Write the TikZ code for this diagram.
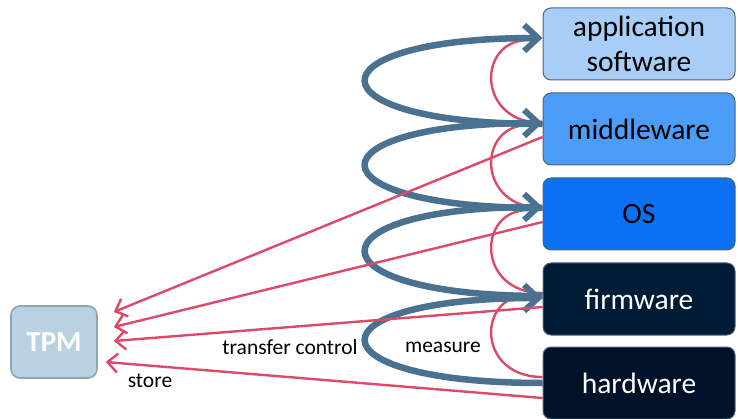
\documentclass[tikz,border=0pt]{standalone}
\usepackage{fontspec}
\setmainfont{Carlito}
\usetikzlibrary{arrows.meta,calc}

\definecolor{appfill}{HTML}{A8CEF7}
\definecolor{mwfill}{HTML}{4C9DF8}
\definecolor{osfill}{HTML}{0A72F2}
\definecolor{fwfill}{HTML}{001B35}
\definecolor{hwfill}{HTML}{00112A}
\definecolor{boxedge}{HTML}{4F6478}
\definecolor{tpmfill}{HTML}{B9D1E0}
\definecolor{tpmedge}{HTML}{8FA4B2}
\definecolor{flow}{HTML}{4A7290}
\definecolor{meas}{HTML}{DC4A6A}

\tikzset{
  layer/.style={draw=boxedge, line width=1pt, rounded corners=8pt,
    minimum width=192pt, minimum height=72pt, inner sep=0pt, align=center,
    font=\fontsize{29.5}{35}\selectfont},
  tpmbox/.style={draw=tpmedge, fill=tpmfill, line width=1.6pt, rounded corners=9pt,
    minimum width=86pt, minimum height=72pt, inner sep=0pt, text=white,
    font=\fontsize{29}{34}\selectfont\bfseries},
  control/.style={draw=flow, line width=6.5pt,
    -{Straight Barb[length=14pt,width=26pt,line width=6pt]}},
  measarc/.style={draw=meas, line width=2.4pt},
  storeline/.style={draw=meas, line width=2.4pt,
    -{Straight Barb[length=10pt,width=19pt,line width=2.4pt]}},
  lbl/.style={font=\fontsize{21.5}{26}\selectfont, inner sep=0pt}
}

\begin{document}
\begin{tikzpicture}[x=1pt,y=-1pt]
\useasboundingbox (0,0) rectangle (738,419);

% software/hardware stack
\node[layer, fill=appfill] (app) at (639,44) {application\\software};
\node[layer, fill=mwfill] (mw) at (639,129) {middleware};
\node[layer, fill=osfill] (os) at (639,214) {OS};
\node[layer, fill=fwfill, text=white] (fw) at (639,299) {firmware};
\node[layer, fill=hwfill, text=white] (hw) at (639,383) {hardware};

\node[tpmbox] (tpm) at (54,342) {TPM};

% measurement arcs (each layer measures the one above)
\foreach \lo/\up in {mw/app, os/mw, fw/os, hw/fw}{
  \draw[measarc] ([yshift=6pt]\lo.west) .. controls ($([yshift=6pt]\lo.west)+(-66,0)$)
    and ($([yshift=4pt]\up.west)+(-66,0)$) .. ([yshift=4pt,xshift=-14pt]\up.west);
}

% transfer of control
\foreach \lo/\up/\s/\e in {mw/app/5/6, os/mw/6/6, fw/os/3/7, hw/fw/0/1}{
  \draw[control] ([yshift=\s pt]\lo.west) .. controls ($([yshift=\s pt]\lo.west)+(-236,0)$)
    and ($([yshift=\e pt]\up.west)+(-236,0)$) .. ([yshift=\e pt]\up.west);
}

% measurements stored in the TPM
\draw[storeline] ([yshift=-8pt]mw.west) -- ([xshift=16pt,yshift=30pt]tpm.east);
\draw[storeline] ([yshift=-8pt]os.west) -- ([xshift=16pt,yshift=15pt]tpm.east);
\draw[storeline] ([yshift=-8pt]fw.west) -- ([xshift=16pt,yshift=1pt]tpm.east);
\draw[storeline] ([yshift=-15pt]hw.west) -- ([xshift=8pt,yshift=-20pt]tpm.east);

% labels
\node[lbl] (tc) at (290,347) {transfer control};
\node[lbl] (ms) at (443,347) {measure};
\node[lbl] (st) at (150,381) {store};
\end{tikzpicture}
\end{document}
